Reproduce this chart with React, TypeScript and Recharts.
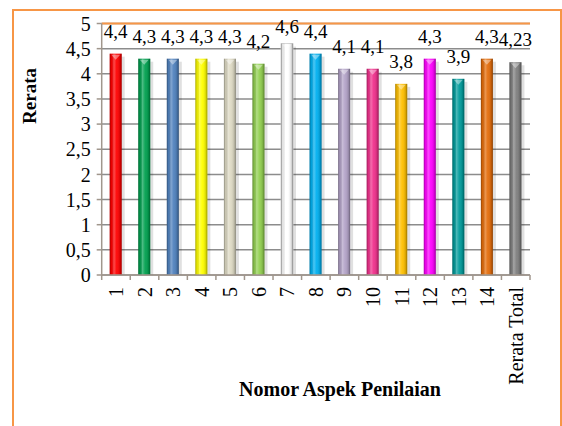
import React from 'react';
import { BarChart, Bar, XAxis, YAxis, CartesianGrid, Cell, LabelList, Label, ReferenceLine } from 'recharts';

const aspects = ['1', '2', '3', '4', '5', '6', '7', '8', '9', '10', '11', '12', '13', '14', 'Rerata Total'];
const rerata = [4.4, 4.3, 4.3, 4.3, 4.3, 4.2, 4.6, 4.4, 4.1, 4.1, 3.8, 4.3, 3.9, 4.3, 4.23];
const yTicks = [0, 0.5, 1, 1.5, 2, 2.5, 3, 3.5, 4, 4.5, 5];

const barColors = [
    '#FF0000', '#00A04F', '#4F81BD', '#FFFF00', '#DDD9C3', '#92D050', '#FFFFFF', '#00B0F0',
    '#B2A2C7', '#F0308C', '#FFC000', '#FF00FF', '#009B9B', '#E46C0A', '#7F7F7F'
];

const data = aspects.map((name, i) => ({ name, value: rerata[i] }));

const FONT = '"Liberation Serif", "Times New Roman", serif';
const AXIS = '#A0968C';
const ORANGE = '#F79646';

const fmt = (v: number) => String(v).replace('.', ',');

// cylinder-like bar with small cap at the top
const CylinderBar = (props: any) => {
    const { x, y, width, height, fill, index } = props;
    if (!height || height <= 0) return null;
    return (
        <g>
            <rect x={x + width} y={y + 3} width={3} height={height - 3} fill="#000" opacity={0.12} />
            <rect x={x} y={y} width={width} height={height} fill={fill} stroke={index === 6 ? '#C8C8C8' : 'none'} strokeWidth={0.8} />
            <rect x={x} y={y} width={width} height={height} fill="url(#cyl)" />
            <polygon
                points={`${x + 1.5},${y + 1} ${x + width - 1.5},${y + 1} ${x + width / 2},${y + 6}`}
                fill="#fff"
                opacity={0.4}
            />
        </g>
    );
};

const ValueLabel = (props: any) => {
    const { x, y, width, value } = props;
    const baseline = Math.max(y - 16, 33);
    return (
        <text x={x + width / 2} y={baseline} textAnchor="middle" fontFamily={FONT} fontSize={19} fill="#000">
            {fmt(value)}
        </text>
    );
};

// rotated category label plus the small tick marks at the category edges
const AspectTick = (props: any) => {
    const { x, y, payload, index } = props;
    const half = payload.offset || 0;
    const axisY = y - 12;
    return (
        <g>
            <line x1={x - half} x2={x - half} y1={axisY} y2={axisY + 5} stroke={AXIS} strokeWidth={1.5} />
            {index === aspects.length - 1 && (
                <line x1={x + half} x2={x + half} y1={axisY} y2={axisY + 5} stroke={AXIS} strokeWidth={1.5} />
            )}
            <text
                transform={`translate(${x},${y}) rotate(-90)`}
                textAnchor="end"
                dy="0.35em"
                fontFamily={FONT}
                fontSize={20}
                fill="#000"
            >
                {payload.value}
            </text>
        </g>
    );
};

export default function App() {
    return (
        <div style={{ position: 'fixed', left: 0, top: 0, width: 562, height: 426, overflow: 'hidden', background: '#fff' }}>
            <svg width={0} height={0} style={{ position: 'absolute' }}>
                <defs>
                    <linearGradient id="cyl" x1="0" y1="0" x2="1" y2="0">
                        <stop offset="0%" stopColor="#000" stopOpacity={0.35} />
                        <stop offset="14%" stopColor="#000" stopOpacity={0.08} />
                        <stop offset="35%" stopColor="#fff" stopOpacity={0.3} />
                        <stop offset="58%" stopColor="#fff" stopOpacity={0.05} />
                        <stop offset="86%" stopColor="#000" stopOpacity={0.15} />
                        <stop offset="100%" stopColor="#000" stopOpacity={0.4} />
                    </linearGradient>
                </defs>
            </svg>
            <div style={{ position: 'absolute', left: 12, top: 9, width: 550, height: 440, border: `2px solid ${ORANGE}`, boxSizing: 'border-box' }} />
            <div style={{ position: 'absolute', left: 0, top: 0 }}>
                <BarChart width={562} height={426} data={data} margin={{ top: 23.5, right: 32, bottom: 0, left: 0 }} barSize={12}>
                    <CartesianGrid vertical={false} stroke="#8C8C8C" strokeWidth={1.5} />
                    <XAxis
                        dataKey="name"
                        type="category"
                        interval={0}
                        height={151}
                        stroke={AXIS}
                        strokeWidth={1.5}
                        tickLine={false}
                        tickSize={0}
                        tickMargin={12}
                        tick={<AspectTick />}
                    >
                        <Label
                            content={() => (
                                <text x={340} y={396} textAnchor="middle" fontFamily={FONT} fontWeight="bold" fontSize={20} fill="#000">
                                    Nomor Aspek Penilaian
                                </text>
                            )}
                        />
                    </XAxis>
                    <YAxis
                        domain={[0, 5]}
                        ticks={yTicks}
                        interval={0}
                        width={101.7}
                        tickSize={5}
                        tickMargin={6}
                        tickFormatter={fmt}
                        stroke={AXIS}
                        strokeWidth={1.5}
                        tick={{ fill: '#000', fontFamily: FONT, fontSize: 20 }}
                    >
                        <Label
                            content={() => (
                                <text transform="translate(36,96) rotate(-90)" textAnchor="middle" fontFamily={FONT} fontWeight="bold" fontSize={19} fill="#000">
                                    Rerata
                                </text>
                            )}
                        />
                    </YAxis>
                    <YAxis
                        yAxisId="right"
                        orientation="right"
                        domain={[0, 5]}
                        width={0}
                        tick={false}
                        tickLine={false}
                        stroke={ORANGE}
                        strokeWidth={2}
                    />
                    <ReferenceLine y={5} stroke={ORANGE} strokeWidth={2} />
                    <Bar dataKey="value" shape={<CylinderBar />} isAnimationActive={false}>
                        {data.map((d, i) => (
                            <Cell key={d.name} fill={barColors[i]} />
                        ))}
                        <LabelList dataKey="value" content={<ValueLabel />} />
                    </Bar>
                </BarChart>
            </div>
        </div>
    );
}
